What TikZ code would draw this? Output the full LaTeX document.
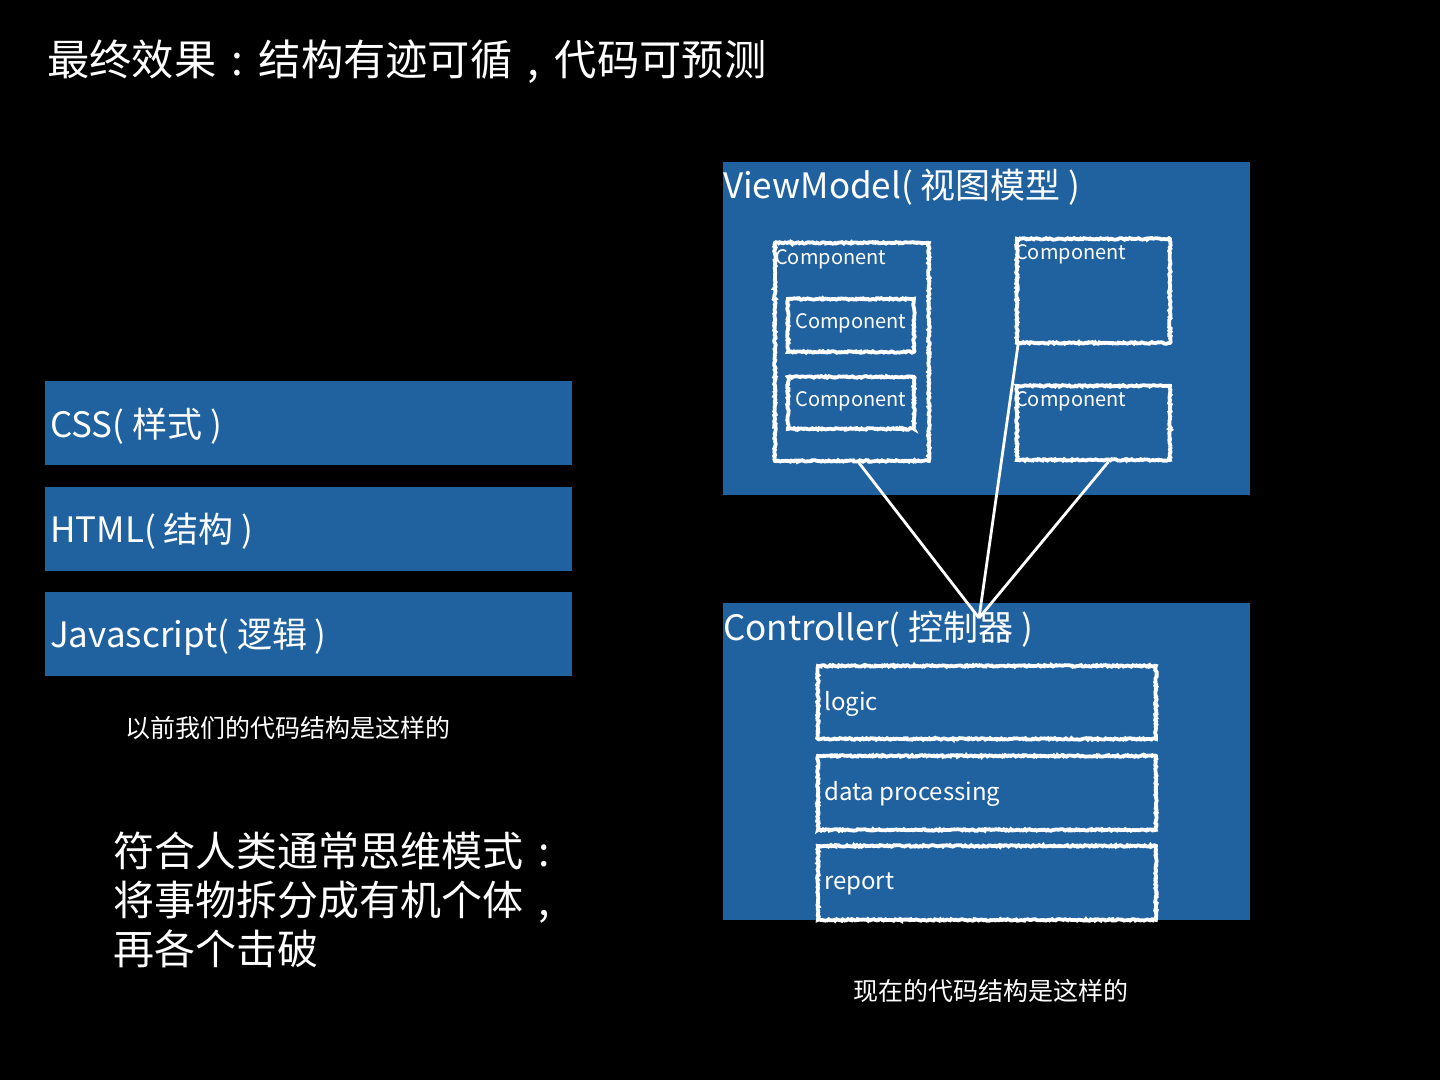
\documentclass[tikz,border=0pt]{standalone}
\usepackage{fontspec}
\setmainfont{Noto Sans CJK SC}
\usepackage{tikz}
\usetikzlibrary{decorations.pathmorphing,positioning,calc}
\definecolor{slideblue}{HTML}{2061A0}
\newcommand{\zcolon}{\makebox[1em][c]{:}}
\newcommand{\zcomma}{\makebox[1em][c]{,}}
\tikzset{
  bluebox/.style={fill=slideblue,draw=none,anchor=north west,inner sep=0pt},
  chalkbox/.style={draw=white,line width=3.8pt,anchor=north west,inner sep=0pt,
    decorate,decoration={random steps,segment length=1.5pt,amplitude=0.8pt}},
  boxlab/.style={text=white,anchor=west,inner sep=0pt,font=\fontsize{35}{40}\selectfont},
  bigtitle/.style={text=white,anchor=west,inner sep=0pt,font=\fontsize{35}{40}\selectfont},
  complab/.style={text=white,inner sep=0pt,font=\fontsize{20}{24}\selectfont},
  steplab/.style={text=white,anchor=west,inner sep=0pt,font=\fontsize{24}{28}\selectfont},
  caption/.style={text=white,anchor=west,inner sep=0pt,font=\fontsize{25}{30}\selectfont},
  wire/.style={draw=white,line width=2.8pt}
}

\begin{document}
\begin{tikzpicture}[x=1pt,y=-1pt]
  \fill[black] (0,0) rectangle (1440,1080);
  \useasboundingbox (0,0) rectangle (1440,1080);
  \node[text=white,anchor=west,inner sep=0pt,font=\fontsize{42.3}{48}\selectfont] (title) at (47,62) {最终效果\zcolon 结构有迹可循\zcomma 代码可预测};
  % left: old layered structure
  \node[bluebox,minimum width=527pt,minimum height=84pt] (css) at (45,381) {};
  \node[bluebox,minimum width=527pt,minimum height=84pt] (html) at (45,487) {};
  \node[bluebox,minimum width=527pt,minimum height=84pt] (js) at (45,592) {};
  \node[boxlab] (csslab) at (50,426) {CSS( 样式 )};
  \node[boxlab] (htmllab) at (50,531) {HTML( 结构 )};
  \node[boxlab] (jslab) at (50,637) {Javascript( 逻辑 )};
  \node[caption] (oldcap) at (125,728) {以前我们的代码结构是这样的};
  \node[text=white,anchor=west,inner sep=0pt,align=left,font=\fontsize{41}{49}\selectfont] (summary) at (113,900) {符合人类通常思维模式\zcolon\\将事物拆分成有机个体\zcomma\\再各个击破};
  % right: viewmodel
  \node[bluebox,minimum width=527pt,minimum height=333pt] (vm) at (723,162) {};
  \node[bigtitle] (vmlab) at (723,187) {ViewModel( 视图模型 )};
  \node[chalkbox,minimum width=154pt,minimum height=218pt] (c1) at (773,241) {};
  \node[chalkbox,minimum width=126pt,minimum height=53pt] (c2) at (786,297) {};
  \node[chalkbox,minimum width=126pt,minimum height=52pt] (c3) at (786,375) {};
  \node[chalkbox,minimum width=153pt,minimum height=104pt] (c4) at (1015,237) {};
  \node[chalkbox,minimum width=153pt,minimum height=74pt] (c5) at (1015,384) {};
  \node[complab,anchor=west] (c1lab) at (775,259) {Component};
  \node[complab] (c2lab) at ([yshift=2pt]c2.center) {Component};
  \node[complab] (c3lab) at ([yshift=2pt]c3.center) {Component};
  \node[complab,anchor=west] (c4lab) at (1015,254) {Component};
  \node[complab,anchor=west] (c5lab) at (1015,401) {Component};
  % right: controller
  \node[bluebox,minimum width=527pt,minimum height=317pt] (ctl) at (723,603) {};
  \node[chalkbox,minimum width=338pt,minimum height=73pt] (logic) at (816,664) {};
  \node[chalkbox,minimum width=338pt,minimum height=74pt] (data) at (816,754) {};
  \node[chalkbox,minimum width=338pt,minimum height=74pt] (report) at (816,844) {};
  \node[bigtitle] (ctllab) at (723,629) {Controller( 控制器 )};
  \node[steplab] (logiclab) at (824,704) {logic};
  \node[steplab] (datalab) at (824,794) {data processing};
  \node[steplab] (reportlab) at (824,884) {report};
  \node[caption] (newcap) at (853,991) {现在的代码结构是这样的};
  % wires into the controller
  \coordinate (hub) at (979,618);
  \draw[wire] ([xshift=7pt]c1.south) -- (hub);
  \draw[wire] ([xshift=3pt]c4.south west) -- (hub);
  \draw[wire] ([xshift=15pt]c5.south) -- (hub);
\end{tikzpicture}
\end{document}
